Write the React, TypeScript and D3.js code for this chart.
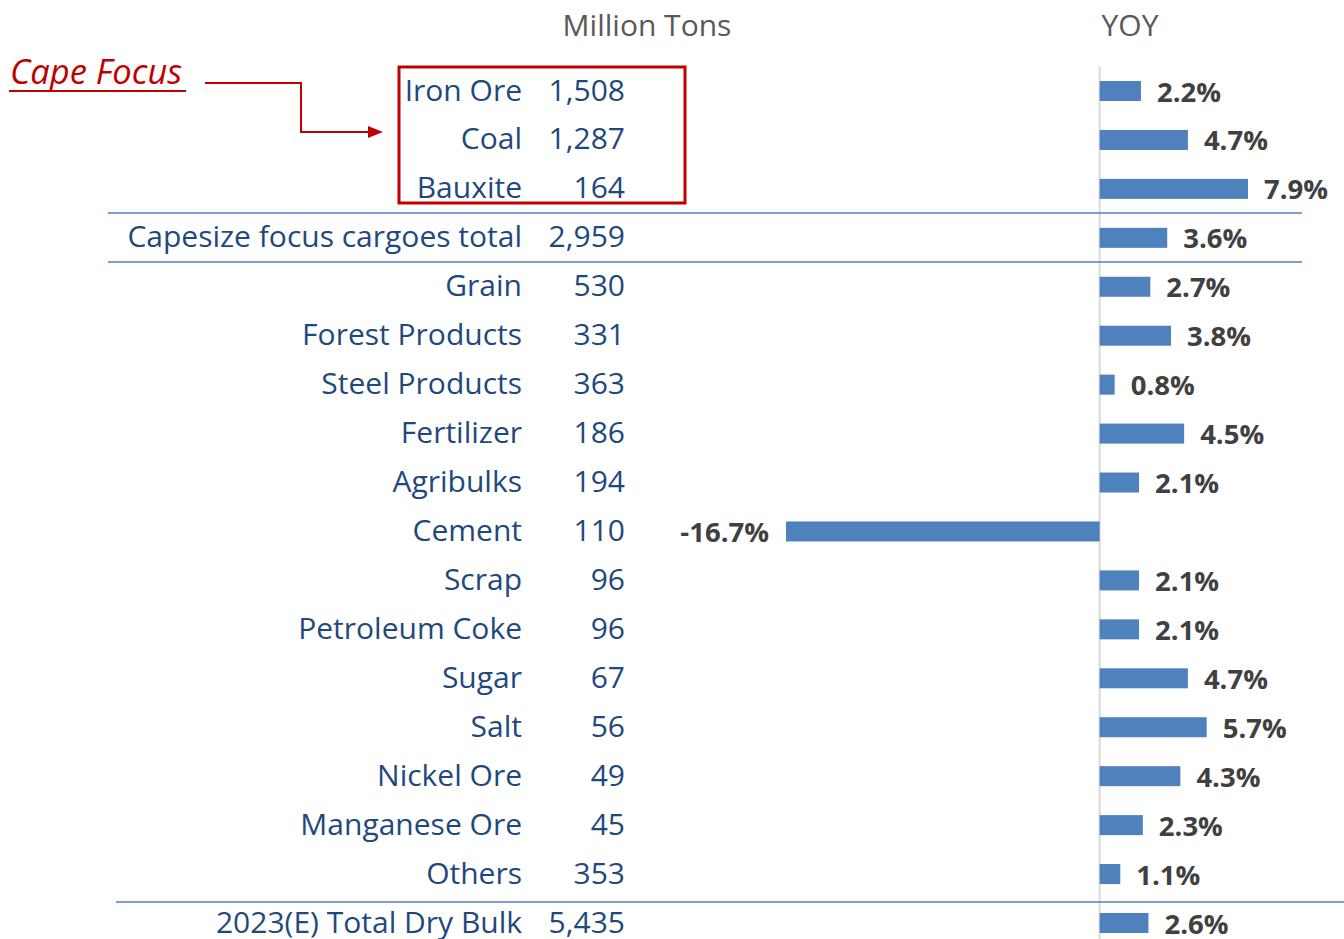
import React from "react";
import * as d3 from "d3";

const categories = [
  "Iron Ore", "Coal", "Bauxite", "Capesize focus cargoes total", "Grain",
  "Forest Products", "Steel Products", "Fertilizer", "Agribulks", "Cement",
  "Scrap", "Petroleum Coke", "Sugar", "Salt", "Nickel Ore", "Manganese Ore",
  "Others", "2023(E) Total Dry Bulk",
];
const volumes = [1508, 1287, 164, 2959, 530, 331, 363, 186, 194, 110, 96, 96, 67, 56, 49, 45, 353, 5435];
const yoy = [2.2, 4.7, 7.9, 3.6, 2.7, 3.8, 0.8, 4.5, 2.1, -16.7, 2.1, 2.1, 4.7, 5.7, 4.3, 2.3, 1.1, 2.6];

const W = 1344, H = 939;
const FONT = "'Open Sans', 'Noto Sans', sans-serif";
const BLUE_TEXT = "#1f497d";
const BAR = "#4f81bd";
const RED = "#c00000";

export default function App() {
  const y = d3.scalePoint<string>().domain(categories).range([91, 923]);
  const x = d3.scaleLinear().domain([-16.7, 7.9]).range([786, 1248]);
  const fmt = d3.format(",");
  const pct = (v: number) => (v < 0 ? "-" : "") + d3.format(".1f")(Math.abs(v)) + "%";
  const barH = 20;
  const x0 = x(0);

  return (
    <svg width={W} height={H} style={{ position: "absolute", left: 0, top: 0, background: "#fff" }} fontFamily={FONT}>
      {/* headers */}
      <text x={647} y={24} textAnchor="middle" dominantBaseline="central" fontSize={30} fill="#595959">Million Tons</text>
      <text x={1130} y={24} textAnchor="middle" dominantBaseline="central" fontSize={30} fill="#595959">YOY</text>

      {/* zero axis */}
      <line x1={x0} x2={x0} y1={67} y2={939} stroke="#d9d9d9" strokeWidth={2} />

      {/* separators */}
      <line x1={108} x2={1302} y1={213} y2={213} stroke={BAR} strokeWidth={1.5} />
      <line x1={108} x2={1302} y1={262} y2={262} stroke={BAR} strokeWidth={1.5} />
      <line x1={116} x2={1344} y1={902} y2={902} stroke={BAR} strokeWidth={1.5} />

      {categories.map((c, i) => {
        const cy = y(c)!;
        const v = yoy[i];
        const bx = Math.min(x(v), x0);
        const bw = Math.abs(x(v) - x0);
        return (
          <g key={c}>
            <text x={522} y={cy - 2} textAnchor="end" dominantBaseline="central" fontSize={30} fill={BLUE_TEXT}>{c}</text>
            <text x={625} y={cy - 2} textAnchor="end" dominantBaseline="central" fontSize={30} fill={BLUE_TEXT}>{fmt(volumes[i])}</text>
            <rect x={bx} y={cy - barH / 2} width={bw} height={barH} fill={BAR} />
            <text
              x={v >= 0 ? x(v) + 16 : x(v) - 17}
              y={cy}
              textAnchor={v >= 0 ? "start" : "end"}
              dominantBaseline="central"
              fontSize={27.5}
              fontWeight="bold"
              fill="#404040"
            >{pct(v)}</text>
          </g>
        );
      })}

      {/* red box */}
      <rect x={399} y={67} width={286} height={136} fill="none" stroke={RED} strokeWidth={3} />

      {/* Cape Focus */}
      <text x={10} y={84} fontSize={34.5} fontStyle="italic" fill={RED}>Cape Focus</text>
      <line x1={9} x2={186} y1={91} y2={91} stroke={RED} strokeWidth={2} />
      <path d="M205,83 H301 V132 H370" fill="none" stroke={RED} strokeWidth={2} />
      <path d="M368,126 L383,132 L368,138 Z" fill={RED} />
    </svg>
  );
}
